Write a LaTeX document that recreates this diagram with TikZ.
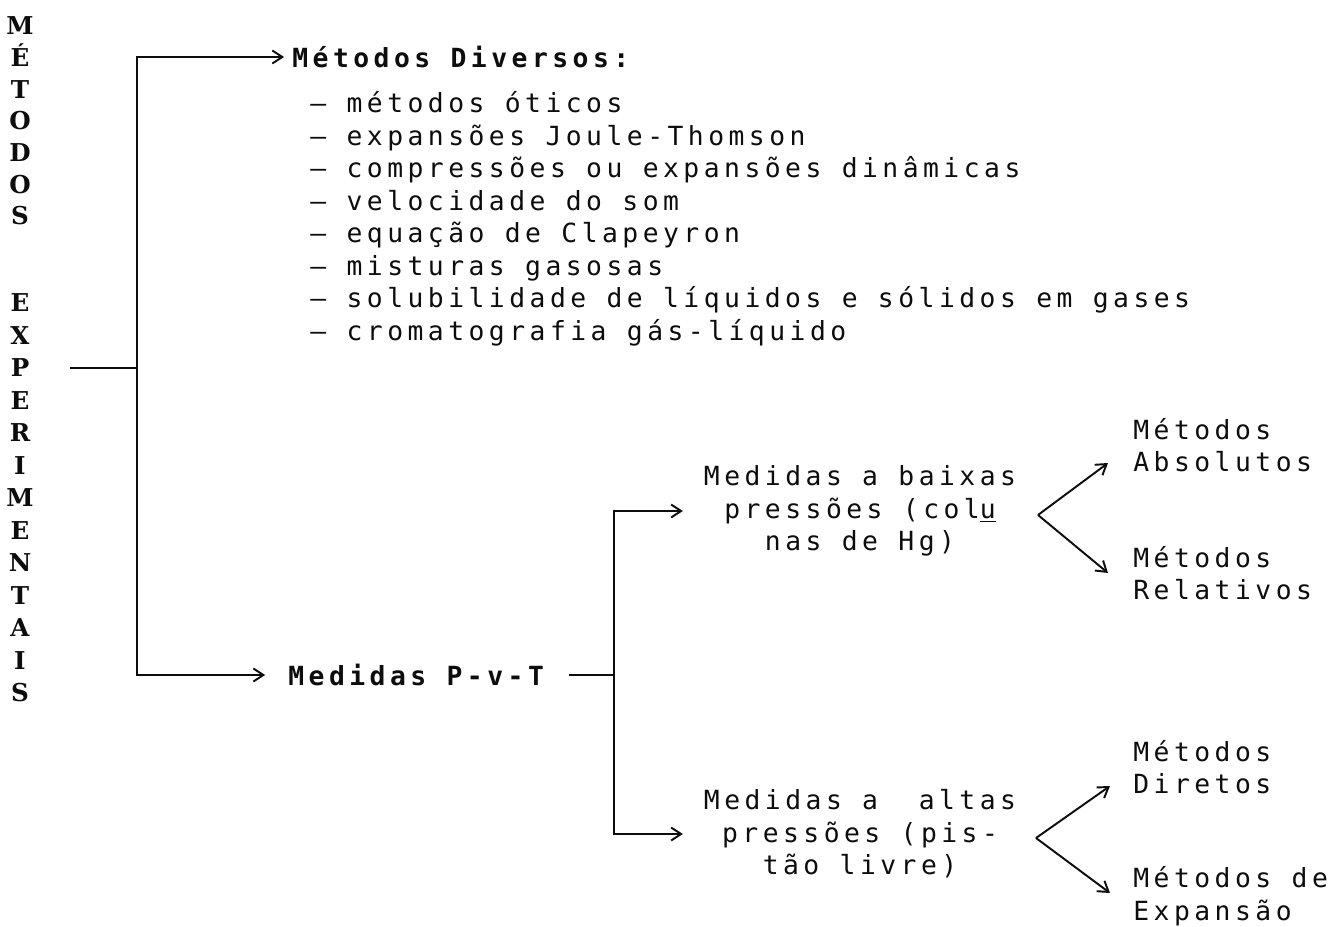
\documentclass[tikz,border=0pt]{standalone}
\usepackage{fontspec}
\usepackage{tikz}
\usetikzlibrary{arrows.meta, positioning}
\newfontfamily\dotfont[LetterSpace=17]{DejaVu Sans Mono}
\newfontfamily\sidefont{DejaVu Serif}
\definecolor{inkBlack}{gray}{0.05}

\tikzset{
  txt/.style={font=\dotfont\fontsize{15}{18.55}\selectfont, inner sep=0pt, align=left, inkBlack},
  head/.style={txt, font=\dotfont\bfseries\fontsize{15}{18.55}\selectfont},
  side/.style={font=\sidefont\bfseries\fontsize{14}{18}\selectfont, inner sep=0pt, align=center, inkBlack},
  link/.style={line width=1.1pt, inkBlack},
}

\begin{document}
\begin{tikzpicture}[x=0.02cm, y=-0.02cm, >={Straight Barb[length=2mm, width=2.6mm]}]
    \useasboundingbox (0,0) rectangle (1334,926);

    % Vertical title
    \node[side] (metodos) at (20,121) {M\\É\\T\\O\\D\\O\\S};
    \node[side, font=\sidefont\bfseries\fontsize{14}{18.5}\selectfont] (experim) at (20,498)
        {E\\X\\P\\E\\R\\I\\M\\E\\N\\T\\A\\I\\S};

    \coordinate (root) at (70,368);
    \coordinate (fork) at (137,368);
    \coordinate (fork2) at (614,675);

    % First branch
    \node[head, anchor=west] (diversos) at (292,57) {Métodos Diversos:};
    \node[txt, anchor=north west] (lista) at (310,91)
        {– métodos óticos\\
         – expansões Joule-Thomson\\
         – compressões ou expansões dinâmicas\\
         – velocidade do som\\
         – equação de Clapeyron\\
         – misturas gasosas\\
         – solubilidade de líquidos e sólidos em gases\\
         – cromatografia gás-líquido};

    % Second branch
    \node[head, anchor=west] (pvt) at (288,675) {Medidas P-v-T};
    \node[txt, align=center] (baixas) at (860,511)
        {Medidas a baixas\\pressões (col\underline{u}\\nas de Hg)};
    \node[txt, align=center] (altas) at (860,834)
        {Medidas a\ \ altas\\pressões (pis-\\tão livre)};

    \node[txt, anchor=west] (absol) at (1133,445) {Métodos\\Absolutos};
    \node[txt, anchor=west] (relat) at (1133,573) {Métodos\\Relativos};
    \node[txt, anchor=west] (diret) at (1133,767) {Métodos\\Diretos};
    \node[txt, anchor=west] (expans) at (1133,896) {Métodos de\\Expansão};

    \coordinate (v1) at (1038,515);
    \coordinate (v1a) at (1108,463);
    \coordinate (v1b) at (1108,573);
    \coordinate (v2) at (1036,838);
    \coordinate (v2a) at (1110,786);
    \coordinate (v2b) at (1110,893);

    % Connectors
    \draw[link] (root) -- (fork);
    \draw[link, ->, shorten >=4.5pt] (fork) |- (diversos.west);
    \draw[link, ->, shorten >=13pt] (fork) |- (pvt.west);
    \draw[link, shorten <=14pt] (pvt.east) -- (fork2);
    \draw[link, ->, shorten >=11.8pt] (fork2) |- (baixas.west);
    \draw[link, ->, shorten >=11.8pt] (fork2) |- (altas.west);

    \draw[link, ->] (v1) -- (v1a);
    \draw[link, ->] (v1) -- (v1b);
    \draw[link, ->] (v2) -- (v2a);
    \draw[link, ->] (v2) -- (v2b);
\end{tikzpicture}
\end{document}
